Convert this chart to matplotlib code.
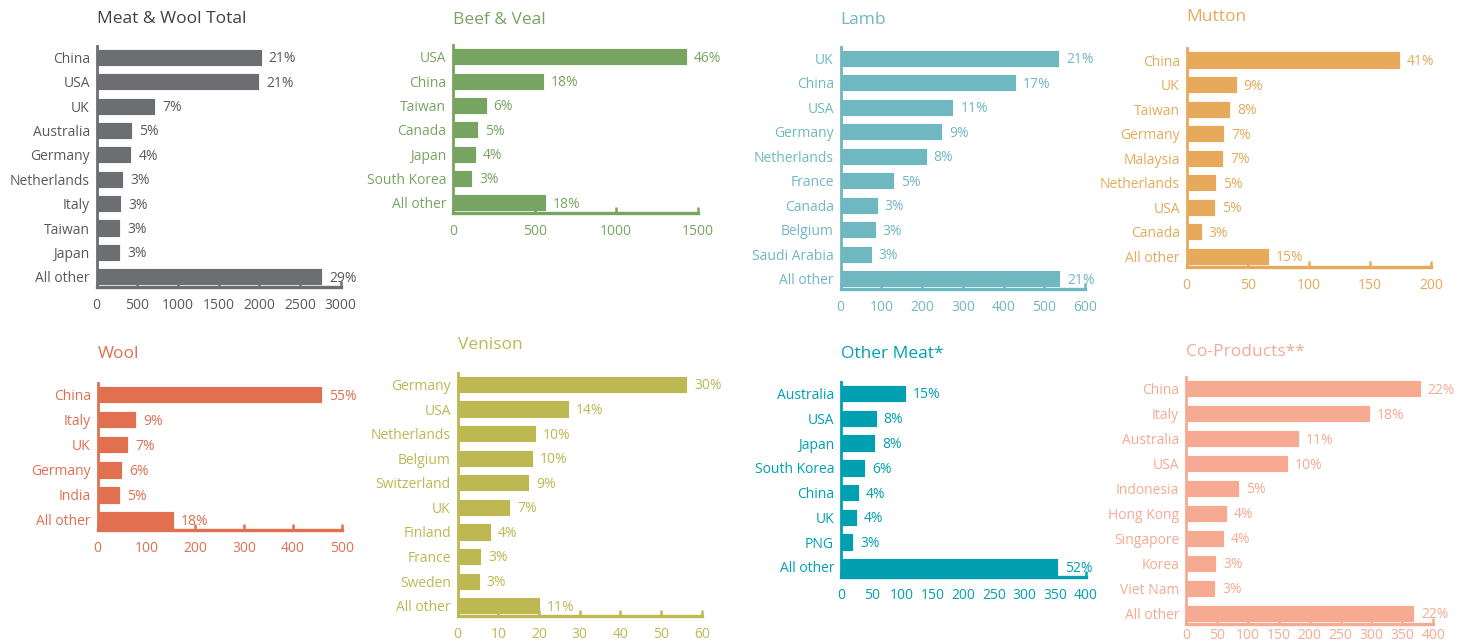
import matplotlib
matplotlib.use('Agg')
import matplotlib.pyplot as plt

plt.rcParams['font.family'] = ['Open Sans', 'DejaVu Sans']

# ---- data ----
total_countries = ['China', 'USA', 'UK', 'Australia', 'Germany', 'Netherlands', 'Italy', 'Taiwan', 'Japan', 'All other']
total_values = [2030, 2000, 717, 438, 426, 323, 303, 291, 287, 2771]
total_pcts = ['21%', '21%', '7%', '5%', '4%', '3%', '3%', '3%', '3%', '29%']

beef_countries = ['USA', 'China', 'Taiwan', 'Canada', 'Japan', 'South Korea', 'All other']
beef_values = [1436, 556, 205, 153, 141, 115, 569]
beef_pcts = ['46%', '18%', '6%', '5%', '4%', '3%', '18%']

lamb_countries = ['UK', 'China', 'USA', 'Germany', 'Netherlands', 'France', 'Canada', 'Belgium', 'Saudi Arabia', 'All other']
lamb_values = [536, 430, 277, 249, 211, 131, 91, 86, 76, 539]
lamb_pcts = ['21%', '17%', '11%', '9%', '8%', '5%', '3%', '3%', '3%', '21%']

mutton_countries = ['China', 'UK', 'Taiwan', 'Germany', 'Malaysia', 'Netherlands', 'USA', 'Canada', 'All other']
mutton_values = [174.6, 40.9, 35.7, 30.5, 30, 23.7, 22.9, 12.3, 67.1]
mutton_pcts = ['41%', '9%', '8%', '7%', '7%', '5%', '5%', '3%', '15%']

wool_countries = ['China', 'Italy', 'UK', 'Germany', 'India', 'All other']
wool_values = [459.7, 78.4, 62, 50.4, 45, 156]
wool_pcts = ['55%', '9%', '7%', '6%', '5%', '18%']

venison_countries = ['Germany', 'USA', 'Netherlands', 'Belgium', 'Switzerland', 'UK', 'Finland', 'France', 'Sweden', 'All other']
venison_values = [56.5, 27.3, 19.3, 18.5, 17.6, 12.9, 8.1, 5.8, 5.4, 20.2]
venison_pcts = ['30%', '14%', '10%', '10%', '9%', '7%', '4%', '3%', '3%', '11%']

other_countries = ['Australia', 'USA', 'Japan', 'South Korea', 'China', 'UK', 'PNG', 'All other']
other_values = [105.6, 58.2, 56, 39.7, 29.4, 26.1, 19.6, 354.8]
other_pcts = ['15%', '8%', '8%', '6%', '4%', '4%', '3%', '52%']

co_countries = ['China', 'Italy', 'Australia', 'USA', 'Indonesia', 'Hong Kong', 'Singapore', 'Korea', 'Viet Nam', 'All other']
co_values = [379.7, 297.7, 183.3, 164.5, 85.2, 66.3, 61, 49.1, 47, 369.3]
co_pcts = ['22%', '18%', '11%', '10%', '5%', '4%', '4%', '3%', '3%', '22%']

W, H = 1477, 644
fig = plt.figure(figsize=(W / 100, H / 100), dpi=100)


def panel(title, countries, values, pcts, xmax, xstep, color, tcolor, titlecolor,
          left, right, top, bottom, title_y, xpad=8):
    ax = fig.add_axes([left / W, 1 - bottom / H, (right - left) / W, (bottom - top) / H])
    n = len(countries)
    ax.barh(range(n), values, height=0.7, color=color, edgecolor='white', linewidth=0.6)
    ax.set_ylim(n - 1 + 0.42, -0.48)
    ax.set_xlim(0, xmax)
    ax.set_yticks(range(n))
    ax.set_yticklabels(countries)
    ax.set_xticks(range(0, xmax + 1, xstep))
    ax.tick_params(axis='y', length=0, pad=5, labelsize=10, labelcolor=tcolor)
    ax.tick_params(axis='x', direction='in', length=4, width=1.8, color=color,
                   pad=xpad, labelsize=10, labelcolor=tcolor)
    for s in ['top', 'right']:
        ax.spines[s].set_visible(False)
    ax.spines['left'].set_color(color)
    ax.spines['left'].set_linewidth(2)
    ax.spines['bottom'].set_color(color)
    ax.spines['bottom'].set_linewidth(2.4)
    for i, (v, p) in enumerate(zip(values, pcts)):
        ax.annotate(p, (v, i), xytext=(5, -1), textcoords='offset points',
                    va='center', ha='left', fontsize=10, color=tcolor)
    fig.text(left / W, 1 - title_y / H, title, fontsize=12.5, color=titlecolor,
             ha='left', va='center')
    return ax


panel('Meat & Wool Total', total_countries, total_values, total_pcts, 3000, 500,
      '#6d6e71', '#58595b', '#414042', 96.7, 340.7, 45.7, 287, 19)
panel('Beef & Veal', beef_countries, beef_values, beef_pcts, 1500, 500,
      '#78a462', '#78a462', '#78a462', 453.3, 697.7, 45, 213, 20.5)
panel('Lamb', lamb_countries, lamb_values, lamb_pcts, 600, 100,
      '#6fb8c1', '#6fb8c1', '#6fb8c1', 840.7, 1085, 46.7, 289, 20)
panel('Mutton', mutton_countries, mutton_values, mutton_pcts, 200, 50,
      '#e6aa5a', '#e6aa5a', '#e6aa5a', 1186.7, 1431, 48.3, 266.7, 17)
panel('Wool', wool_countries, wool_values, wool_pcts, 500, 100,
      '#e0704f', '#e0704f', '#e0704f', 97.7, 342, 382.7, 530.3, 354.5)
panel('Venison', venison_countries, venison_values, venison_pcts, 60, 10,
      '#bdb852', '#bdb852', '#bdb852', 457.7, 701.7, 372.7, 616, 345)
panel('Other Meat*', other_countries, other_values, other_pcts, 400, 50,
      '#00a0b1', '#00a0b1', '#00a0b1', 841, 1086, 381.7, 577.3, 354)
panel('Co-Products**', co_countries, co_values, co_pcts, 400, 50,
      '#f6aa92', '#f6aa92', '#f6aa92', 1186, 1433.3, 376.7, 624, 351.7, xpad=3)

fig.savefig('out.png', dpi=100)
